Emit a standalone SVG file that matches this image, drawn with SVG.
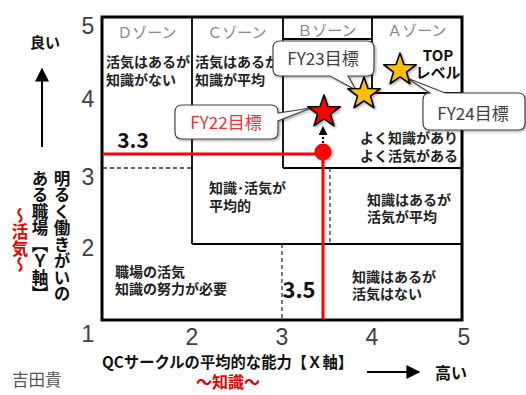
<svg xmlns="http://www.w3.org/2000/svg" xmlns:xlink="http://www.w3.org/1999/xlink" width="526" height="395" viewBox="0 0 526 395">
<style>
.jp{font-family:"Noto Sans CJK JP","Liberation Sans",sans-serif}
.b{font-weight:bold}
.zt{font-family:"Noto Sans CJK JP",sans-serif;font-weight:bold;font-size:14px;fill:#222}
.zh{font-family:"Noto Sans CJK JP",sans-serif;font-size:15px;fill:#888;text-anchor:middle}
.num{font-family:"Liberation Sans",sans-serif;font-size:23px;fill:#404040;text-anchor:middle}
.ln{stroke:#000;stroke-width:1.8;fill:none}
.dash{stroke:#333;stroke-width:1.3;stroke-dasharray:4 3;fill:none}
.red{stroke:#FF0000;stroke-width:3;fill:none}
.co{fill:#fff;stroke:#444;stroke-width:1.2;filter:url(#sh)}
.cot{font-family:"Noto Sans CJK JP",sans-serif;font-size:17px;fill:#404040;text-anchor:middle}
.star{stroke:#000;stroke-width:1.6;stroke-linejoin:round;filter:url(#sh)}
.vt{font-family:"Noto Sans CJK JP",sans-serif;font-weight:bold;font-size:16.5px;writing-mode:vertical-rl;text-orientation:upright}
</style>
<defs>
<filter id="sh" x="-30%" y="-30%" width="160%" height="160%">
<feDropShadow dx="1.5" dy="1.5" stdDeviation="1.2" flood-color="#000" flood-opacity="0.3"/>
</filter>
<polygon id="starshape" points="0,-17 4,-5.5 16.17,-5.25 6.47,2.1 9.99,13.75 0,6.8 -9.99,13.75 -6.47,2.1 -16.17,-5.25 -4,-5.5"/>
<marker id="ah" viewBox="0 0 10 10" refX="9" refY="5" markerWidth="7" markerHeight="7" orient="auto">
<path d="M0,0 L10,5 L0,10 Z" fill="#000"/>
</marker>
<marker id="ah2" viewBox="0 0 10 10" refX="9" refY="5" markerWidth="4" markerHeight="4" orient="auto">
<path d="M0,0 L10,5 L0,10 Z" fill="#000"/>
</marker>
</defs>
<rect width="526" height="395" fill="#fff"/>

<g id="grid">
<line class="ln" x1="192" y1="17" x2="192" y2="244"/>
<line class="ln" x1="283" y1="17" x2="283" y2="168"/>
<line class="ln" x1="283" y1="39" x2="372" y2="39"/>
<line class="ln" x1="372" y1="17" x2="372" y2="93"/>
<line class="ln" x1="372" y1="93" x2="462" y2="93"/>
<line class="ln" x1="283" y1="168" x2="462" y2="168"/>
<line class="ln" x1="192" y1="244" x2="462" y2="244"/>
<line class="dash" x1="103" y1="168" x2="192" y2="168"/>
<line class="dash" x1="282" y1="244" x2="282" y2="320"/>
<line class="dash" x1="330" y1="168" x2="330" y2="244"/>
<rect x="102" y="17" width="360" height="303" fill="none" stroke="#000" stroke-width="3"/>
</g>

<g id="zone-headers">
<text class="zh" x="147" y="38">Ｄゾーン</text>
<text class="zh" x="237" y="38">Ｃゾーン</text>
<text class="zh" x="327" y="36">Ｂゾーン</text>
<text class="zh" x="417" y="36">Ａゾーン</text>
</g>

<g id="zone-D"><text class="zt" x="106" y="67">活気はあるが</text><text class="zt" x="106" y="85">知識がない</text></g>
<g id="zone-C"><text class="zt" x="195" y="67">活気はあるが</text><text class="zt" x="195" y="85">知識が平均</text></g>
<g id="zone-A"><text class="jp b" x="438" y="61" font-size="15" text-anchor="middle" fill="#111">TOP</text><text class="jp b" x="438" y="78" font-size="15" text-anchor="middle" fill="#111">レベル</text></g>
<g id="zone-B"><text class="zt" x="360" y="143" font-size="13">よく知識があり</text><text class="zt" x="360" y="161" font-size="13">よく活気がある</text></g>
<g id="zone-mid"><text class="zt" x="209" y="193" font-size="13">知識･活気が</text><text class="zt" x="209" y="211" font-size="13">平均的</text></g>
<g id="zone-right-mid"><text class="zt" x="367" y="205">知識はあるが</text><text class="zt" x="367" y="222">活気が平均</text></g>
<g id="zone-low-left"><text class="zt" x="115" y="277">職場の活気</text><text class="zt" x="115" y="294">知識の努力が必要</text></g>
<g id="zone-low-right"><text class="zt" x="352" y="282">知識はあるが</text><text class="zt" x="352" y="299">活気はない</text></g>

<g id="connectors">
<line class="red" x1="103" y1="154" x2="323" y2="154"/>
<line class="red" x1="323" y1="153" x2="323" y2="319"/>
<line x1="323" y1="143" x2="323" y2="127" stroke="#000" stroke-width="2.2" stroke-dasharray="2 2" marker-end="url(#ah2)"/>
<line x1="42" y1="147" x2="42" y2="69" stroke="#000" stroke-width="2" marker-end="url(#ah)"/>
<line x1="367" y1="372" x2="419" y2="372" stroke="#000" stroke-width="2" marker-end="url(#ah)"/>
</g>
<g id="point"><circle cx="323" cy="152" r="8.5" fill="#FF0000" filter="url(#sh)"/></g>

<g id="values">
<text class="jp b" x="133" y="148" font-size="21" text-anchor="middle" fill="#111">3.3</text>
<text class="jp b" x="299" y="298" font-size="22" text-anchor="middle" fill="#111">3.5</text>
</g>

<g id="axis-numbers">
<text class="num" x="88" y="34">5</text>
<text class="num" x="88" y="107">4</text>
<text class="num" x="88" y="185">3</text>
<text class="num" x="88" y="256">2</text>
<text class="num" x="88" y="342">1</text>
<text class="num" x="192" y="345">2</text>
<text class="num" x="282" y="345">3</text>
<text class="num" x="372" y="345">4</text>
<text class="num" x="464" y="345">5</text>
</g>

<g id="axis-labels">
<text class="jp b" x="45" y="48" font-size="15" text-anchor="middle" fill="#111">良い</text>
<text class="vt" x="62" y="170" fill="#111">明るく働きがいの</text>
<text class="vt" x="40" y="170" fill="#111">ある職場【Ｙ軸】</text>
<text class="vt" x="20" y="207" fill="#E00000">～活気～</text>
<text class="jp b" x="102" y="368" font-size="15.5" textLength="251" lengthAdjust="spacingAndGlyphs" fill="#111">QCサークルの平均的な能力【Ｘ軸】</text>
<text class="jp b" x="228" y="388" font-size="16" text-anchor="middle" fill="#E00000">～知識～</text>
<text class="jp b" x="451" y="379" font-size="16" text-anchor="middle" fill="#111">高い</text>
<text class="jp" x="12" y="386" font-size="16.5" fill="#555">吉田貴</text>
</g>

<g id="callout-FY22">
<path class="co" d="M182,105 H271 Q278,105 278,112 V113 L311,108 L278,121 V132 Q278,139 271,139 H182 Q175,139 175,132 V112 Q175,105 182,105 Z"/>
<text class="cot" x="226" y="129" fill="#E53535" style="fill:#E53535">FY22目標</text>
</g>
<g id="callout-FY23">
<path class="co" d="M280,41 H367 Q374,41 374,48 V69 Q374,76 367,76 H348 L356,90 L330,76 H280 Q273,76 273,69 V48 Q273,41 280,41 Z"/>
<text class="cot" x="323" y="65">FY23目標</text>
</g>
<g id="callout-FY24">
<path class="co" d="M430,93 L407,78 L445,93 H518 Q525,93 525,100 V123 Q525,130 518,130 H430 Q423,130 423,123 V100 Q423,93 430,93 Z"/>
<text class="cot" x="473" y="120" font-size="18">FY24目標</text>
</g>

<g id="star-FY22"><use href="#starshape" x="324" y="112" class="star" fill="#FF0000"/></g>
<g id="star-FY23"><use href="#starshape" x="364" y="94" class="star" fill="#FFC000"/></g>
<g id="star-FY24"><use href="#starshape" x="400" y="70" class="star" fill="#FFC000"/></g>
</svg>
